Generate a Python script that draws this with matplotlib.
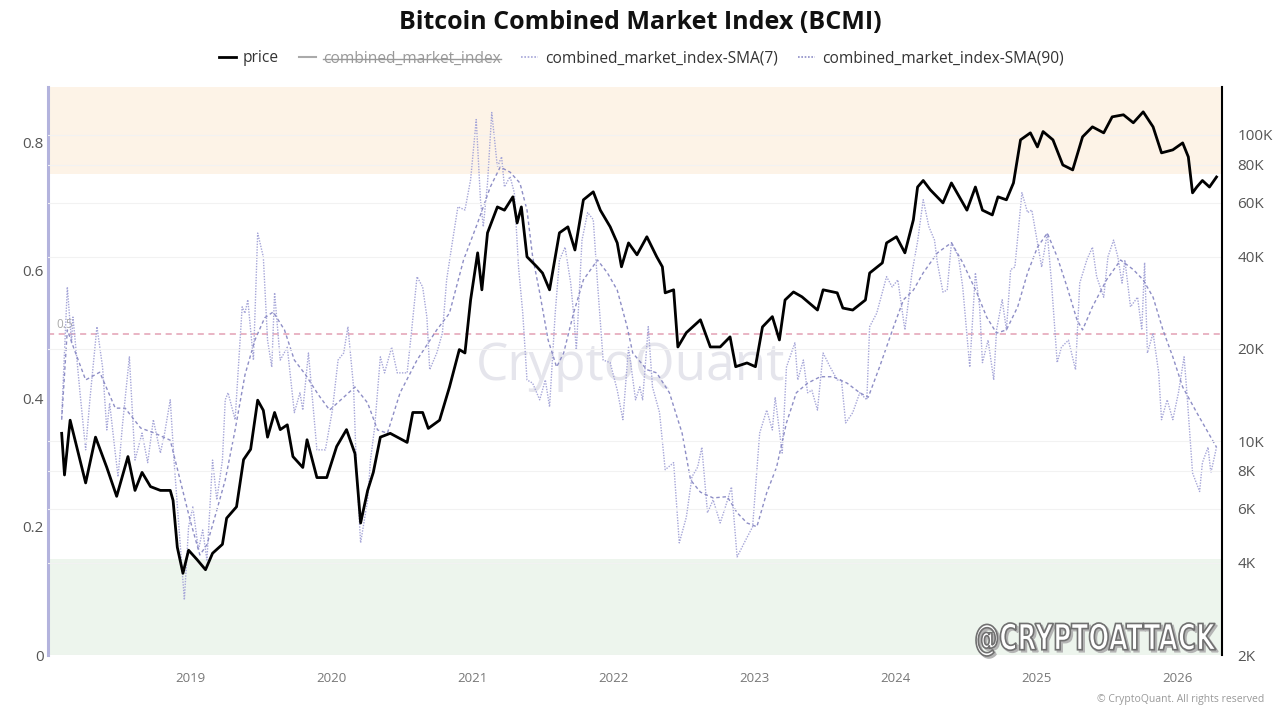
import matplotlib
matplotlib.use("Agg")
import matplotlib.pyplot as plt
from matplotlib.lines import Line2D
from matplotlib.ticker import NullLocator
from matplotlib.textpath import TextPath
from matplotlib.patches import PathPatch
from matplotlib.font_manager import FontProperties
from matplotlib.transforms import Affine2D, IdentityTransform

plt.rcParams['font.family'] = ['Open Sans', 'DejaVu Sans']

# BTC price (USD), decimal year
price_t = [2018.09, 2018.11, 2018.15, 2018.26, 2018.33, 2018.41, 2018.48, 2018.56, 2018.61, 2018.66,
           2018.72, 2018.79, 2018.86, 2018.88, 2018.91, 2018.95, 2018.99, 2019.05, 2019.11, 2019.16,
           2019.23, 2019.26, 2019.33, 2019.38, 2019.43, 2019.48, 2019.52, 2019.55, 2019.60, 2019.64,
           2019.69, 2019.73, 2019.80, 2019.83, 2019.90, 2019.97, 2020.04, 2020.11, 2020.17, 2020.21,
           2020.26, 2020.30, 2020.35, 2020.42, 2020.54, 2020.58, 2020.65, 2020.69, 2020.77, 2020.84,
           2020.91, 2020.95, 2020.99, 2021.04, 2021.07, 2021.11, 2021.18, 2021.23, 2021.29, 2021.32,
           2021.35, 2021.39, 2021.46, 2021.50, 2021.55, 2021.62, 2021.68, 2021.73, 2021.79, 2021.86,
           2021.91, 2021.98, 2022.03, 2022.06, 2022.11, 2022.17, 2022.24, 2022.31, 2022.35, 2022.37,
           2022.43, 2022.46, 2022.52, 2022.62, 2022.69, 2022.76, 2022.83, 2022.87, 2022.95, 2023.01,
           2023.06, 2023.13, 2023.18, 2023.22, 2023.28, 2023.34, 2023.45, 2023.49, 2023.59, 2023.63,
           2023.70, 2023.79, 2023.82, 2023.91, 2023.94, 2024.01, 2024.07, 2024.13, 2024.16, 2024.20,
           2024.25, 2024.34, 2024.40, 2024.51, 2024.57, 2024.62, 2024.69, 2024.73, 2024.79, 2024.84,
           2024.89, 2024.96, 2025.01, 2025.05, 2025.12, 2025.19, 2025.26, 2025.33, 2025.40, 2025.48,
           2025.54, 2025.62, 2025.69, 2025.76, 2025.83, 2025.89, 2025.97, 2026.04, 2026.08, 2026.11,
           2026.14, 2026.18, 2026.23, 2026.28]
price_k = [10.6, 7.75, 11.7, 7.3, 10.3, 8.2, 6.6, 8.9, 6.9, 7.9,
           7.1, 6.9, 6.9, 6.4, 4.5, 3.7, 4.4, 4.1, 3.8, 4.3,
           4.6, 5.6, 6.1, 8.7, 9.4, 13.6, 12.6, 10.3, 12.4, 10.9,
           11.3, 8.9, 8.2, 10.1, 7.6, 7.6, 9.6, 10.9, 9.1, 5.4,
           6.9, 7.9, 10.3, 10.6, 9.9, 12.4, 12.4, 11.0, 11.7, 15.0,
           19.9, 19.4, 28.9, 41.2, 31.2, 47.9, 58.2, 56.8, 62.8, 51.6,
           58.2, 40.0, 37.1, 35.4, 31.2, 47.9, 50.1, 42.1, 61.4, 65.2,
           56.8, 50.1, 44.4, 37.1, 44.4, 40.6, 46.5, 40.0, 37.1, 30.5,
           31.2, 20.3, 22.6, 24.9, 20.3, 20.3, 21.9, 17.5, 18.0, 17.5,
           23.6, 25.5, 21.4, 28.9, 30.7, 29.6, 26.8, 31.2, 30.5, 27.2,
           26.8, 28.9, 35.4, 38.2, 44.4, 46.5, 41.2, 52.8, 67.6, 71.0,
           66.2, 60.0, 69.7, 56.8, 67.6, 56.8, 54.8, 62.8, 61.4, 69.7,
           96.4, 101.6, 91.4, 102.6, 96.4, 79.8, 76.9, 98.6, 106.3, 101.6,
           114.6, 116.4, 109.6, 119.0, 106.3, 87.4, 89.4, 94.2, 84.8, 64.7,
           67.6, 71.0, 67.6, 72.9]

# combined_market_index-SMA(7)
sma7_t = [2018.09, 2018.13, 2018.16, 2018.17, 2018.22, 2018.26, 2018.29, 2018.34, 2018.38, 2018.41,
          2018.43, 2018.47, 2018.49, 2018.52, 2018.57, 2018.61, 2018.66, 2018.70, 2018.74, 2018.79,
          2018.82, 2018.86, 2018.89, 2018.93, 2018.96, 2018.99, 2019.02, 2019.06, 2019.09, 2019.12,
          2019.16, 2019.19, 2019.23, 2019.25, 2019.27, 2019.32, 2019.37, 2019.39, 2019.41, 2019.45,
          2019.48, 2019.52, 2019.55, 2019.58, 2019.60, 2019.64, 2019.69, 2019.74, 2019.78, 2019.80,
          2019.84, 2019.90, 2019.96, 2020.01, 2020.05, 2020.09, 2020.12, 2020.16, 2020.18, 2020.21,
          2020.26, 2020.28, 2020.31, 2020.35, 2020.38, 2020.43, 2020.47, 2020.54, 2020.57, 2020.61,
          2020.65, 2020.68, 2020.70, 2020.75, 2020.79, 2020.82, 2020.86, 2020.90, 2020.95, 2020.99,
          2021.03, 2021.06, 2021.08, 2021.11, 2021.14, 2021.18, 2021.21, 2021.23, 2021.27, 2021.30,
          2021.33, 2021.36, 2021.39, 2021.43, 2021.48, 2021.52, 2021.55, 2021.59, 2021.62, 2021.66,
          2021.70, 2021.72, 2021.74, 2021.78, 2021.82, 2021.86, 2021.89, 2021.93, 2021.98, 2022.03,
          2022.07, 2022.11, 2022.16, 2022.19, 2022.21, 2022.25, 2022.28, 2022.33, 2022.37, 2022.43,
          2022.47, 2022.52, 2022.56, 2022.60, 2022.63, 2022.67, 2022.71, 2022.76, 2022.79, 2022.84,
          2022.88, 2022.94, 2022.99, 2023.04, 2023.09, 2023.13, 2023.15, 2023.20, 2023.23, 2023.29,
          2023.31, 2023.35, 2023.38, 2023.41, 2023.45, 2023.49, 2023.54, 2023.59, 2023.62, 2023.65,
          2023.70, 2023.75, 2023.80, 2023.82, 2023.87, 2023.94, 2023.98, 2024.02, 2024.07, 2024.12,
          2024.16, 2024.20, 2024.24, 2024.28, 2024.30, 2024.34, 2024.37, 2024.40, 2024.45, 2024.48,
          2024.53, 2024.57, 2024.60, 2024.62, 2024.66, 2024.70, 2024.72, 2024.76, 2024.79, 2024.82,
          2024.85, 2024.90, 2024.94, 2024.97, 2025.01, 2025.04, 2025.08, 2025.11, 2025.15, 2025.18,
          2025.23, 2025.28, 2025.31, 2025.36, 2025.40, 2025.43, 2025.48, 2025.51, 2025.55, 2025.58,
          2025.61, 2025.63, 2025.67, 2025.72, 2025.75, 2025.77, 2025.79, 2025.83, 2025.87, 2025.89,
          2025.93, 2025.97, 2026.01, 2026.05, 2026.07, 2026.11, 2026.16, 2026.18, 2026.22, 2026.24,
          2026.28]
sma7_v = [0.371, 0.574, 0.487, 0.527, 0.409, 0.320, 0.398, 0.512, 0.449, 0.351,
          0.393, 0.315, 0.278, 0.356, 0.465, 0.304, 0.346, 0.300, 0.367, 0.315,
          0.346, 0.398, 0.293, 0.175, 0.086, 0.200, 0.231, 0.164, 0.195, 0.148,
          0.304, 0.242, 0.304, 0.398, 0.409, 0.367, 0.543, 0.533, 0.554, 0.460,
          0.658, 0.621, 0.491, 0.449, 0.565, 0.460, 0.480, 0.378, 0.409, 0.382,
          0.471, 0.320, 0.320, 0.382, 0.460, 0.471, 0.512, 0.418, 0.293, 0.175,
          0.242, 0.304, 0.356, 0.465, 0.440, 0.480, 0.440, 0.440, 0.502, 0.590,
          0.574, 0.527, 0.445, 0.471, 0.502, 0.585, 0.643, 0.699, 0.694, 0.741,
          0.835, 0.710, 0.668, 0.736, 0.846, 0.761, 0.777, 0.730, 0.746, 0.721,
          0.605, 0.533, 0.429, 0.424, 0.398, 0.429, 0.387, 0.533, 0.616, 0.636,
          0.580, 0.533, 0.476, 0.647, 0.690, 0.679, 0.580, 0.460, 0.456, 0.413,
          0.367, 0.480, 0.398, 0.418, 0.398, 0.512, 0.418, 0.378, 0.289, 0.300,
          0.175, 0.215, 0.278, 0.293, 0.324, 0.222, 0.242, 0.206, 0.226, 0.262,
          0.153, 0.179, 0.200, 0.346, 0.382, 0.351, 0.402, 0.315, 0.449, 0.487,
          0.429, 0.460, 0.409, 0.413, 0.382, 0.471, 0.449, 0.429, 0.429, 0.362,
          0.378, 0.409, 0.398, 0.512, 0.533, 0.590, 0.574, 0.585, 0.507, 0.596,
          0.645, 0.710, 0.668, 0.647, 0.612, 0.566, 0.569, 0.643, 0.621, 0.574,
          0.449, 0.596, 0.543, 0.456, 0.491, 0.429, 0.507, 0.554, 0.507, 0.601,
          0.605, 0.721, 0.690, 0.694, 0.643, 0.605, 0.658, 0.580, 0.456, 0.480,
          0.491, 0.445, 0.580, 0.616, 0.636, 0.590, 0.558, 0.621, 0.647, 0.621,
          0.580, 0.616, 0.543, 0.558, 0.507, 0.612, 0.471, 0.502, 0.440, 0.367,
          0.398, 0.367, 0.409, 0.465, 0.409, 0.284, 0.255, 0.300, 0.324, 0.284,
          0.324]

# combined_market_index-SMA(90)
sma90_t = [2018.09, 2018.13, 2018.18, 2018.26, 2018.36, 2018.47, 2018.54, 2018.65, 2018.75, 2018.86,
           2018.93, 2019.00, 2019.07, 2019.12, 2019.18, 2019.25, 2019.32, 2019.39, 2019.46, 2019.53,
           2019.59, 2019.67, 2019.74, 2019.82, 2019.91, 2019.99, 2020.17, 2020.26, 2020.33, 2020.40,
           2020.49, 2020.61, 2020.75, 2020.84, 2020.94, 2021.04, 2021.13, 2021.20, 2021.27, 2021.34,
           2021.39, 2021.43, 2021.48, 2021.54, 2021.60, 2021.65, 2021.72, 2021.79, 2021.89, 2021.96,
           2022.03, 2022.10, 2022.14, 2022.24, 2022.31, 2022.40, 2022.49, 2022.55, 2022.62, 2022.71,
           2022.81, 2022.88, 2022.95, 2023.02, 2023.09, 2023.16, 2023.23, 2023.30, 2023.38, 2023.47,
           2023.56, 2023.66, 2023.75, 2023.81, 2023.89, 2023.99, 2024.06, 2024.13, 2024.20, 2024.30,
           2024.40, 2024.48, 2024.58, 2024.65, 2024.72, 2024.79, 2024.87, 2024.94, 2025.01, 2025.08,
           2025.15, 2025.22, 2025.29, 2025.33, 2025.40, 2025.50, 2025.60, 2025.69, 2025.76, 2025.83,
           2025.90, 2025.97, 2026.04, 2026.14, 2026.21, 2026.28]
sma90_v = [0.367, 0.507, 0.476, 0.429, 0.441, 0.385, 0.385, 0.354, 0.346, 0.335,
           0.273, 0.211, 0.156, 0.172, 0.218, 0.273, 0.351, 0.437, 0.491, 0.526,
           0.535, 0.507, 0.460, 0.437, 0.406, 0.382, 0.418, 0.393, 0.351, 0.346,
           0.409, 0.460, 0.507, 0.533, 0.616, 0.674, 0.730, 0.761, 0.753, 0.736,
           0.694, 0.621, 0.565, 0.491, 0.449, 0.471, 0.533, 0.585, 0.616, 0.596,
           0.569, 0.512, 0.471, 0.445, 0.440, 0.409, 0.346, 0.273, 0.254, 0.245,
           0.247, 0.222, 0.206, 0.200, 0.253, 0.293, 0.362, 0.409, 0.424, 0.434,
           0.434, 0.424, 0.409, 0.402, 0.449, 0.512, 0.554, 0.569, 0.596, 0.627,
           0.643, 0.612, 0.565, 0.527, 0.502, 0.507, 0.543, 0.596, 0.636, 0.658,
           0.621, 0.574, 0.523, 0.507, 0.543, 0.585, 0.616, 0.601, 0.585, 0.558,
           0.507, 0.465, 0.418, 0.378, 0.351, 0.324]

years = [2019, 2020, 2021, 2022, 2023, 2024, 2025, 2026]
left_ticks = [0, 0.2, 0.4, 0.6, 0.8]
right_ticks = [2000, 4000, 6000, 8000, 10000, 20000, 40000, 60000, 80000, 100000]
right_labels = ['2K', '4K', '6K', '8K', '10K', '20K', '40K', '60K', '80K', '100K']

fig = plt.figure(figsize=(12.8, 7.12), dpi=100)
ax = fig.add_axes([0.0375, 0.080, 0.9172, 0.798])
ax2 = ax.twinx()

# zones
ax.axhspan(0.75, 1.0, color='#fdf3e7', lw=0, zorder=0)
ax.axhspan(0.0, 0.15, color='#edf5ed', lw=0, zorder=0)
ax.axhline(0.5, color='#e3a0b4', lw=1.1, dashes=(4, 3), zorder=1)
ax.text(2018.05, 0.505, '0.5', fontsize=8.5, color='#aaaaaa', va='bottom', zorder=1)
ax.text(0.496, 0.507, 'CryptoQuant', transform=ax.transAxes, fontsize=37, color='#e5e5ec',
        ha='center', va='center', zorder=0.5)

ax.plot(sma7_t, sma7_v, color='#a6a6d8', lw=1.0, ls=(0, (1, 1)), zorder=2)
ax.plot(sma90_t, sma90_v, color='#8e8ec6', lw=1.0, ls=(0, (2.5, 2)), zorder=2)
ax2.plot(price_t, [p * 1000 for p in price_k], color='black', lw=2.0, zorder=3)

ax.set_xlim(2017.993, 2026.319)
ax.set_ylim(0, 0.886)
ax2.set_yscale('log')
ax2.set_ylim(2000, 143600)

ax.set_xticks(years)
ax.set_xticklabels([str(y) for y in years])
ax.set_yticks(left_ticks)
ax.set_yticklabels(['0', '0.2', '0.4', '0.6', '0.8'])
ax2.set_yticks(right_ticks)
ax2.set_yticklabels(right_labels)
ax2.yaxis.set_minor_locator(NullLocator())
ax2.grid(axis='y', color='#f2f2f2', lw=0.8)

ax.tick_params(axis='x', length=0, pad=12, labelsize=9.5, labelcolor='#777777')
ax.tick_params(axis='y', length=0, pad=3, labelsize=11, labelcolor='#555555')
ax2.tick_params(axis='y', length=0, pad=11, labelsize=11, labelcolor='#555555')

for a in (ax, ax2):
    a.spines['top'].set_visible(False)
    a.spines['bottom'].set_visible(False)
ax2.spines['left'].set_visible(False)
ax.spines['right'].set_visible(False)
ax.spines['left'].set_color('#b3b3dd')
ax.spines['left'].set_linewidth(2.2)
ax2.spines['right'].set_color('black')
ax2.spines['right'].set_linewidth(1.5)

fig.text(0.5, 0.968, 'Bitcoin Combined Market Index (BCMI)', ha='center', va='center',
         fontsize=18, fontweight='bold', color='#111111')

handles = [
    Line2D([], [], color='black', lw=2),
    Line2D([], [], color='#aaaaaa', lw=1.5),
    Line2D([], [], color='#a6a6d8', lw=1.2, ls=(0, (1, 1))),
    Line2D([], [], color='#8e8ec6', lw=1.2, ls=(0, (1, 1))),
]
labels = ['price', 'combined_market_index', 'combined_market_index-SMA(7)',
          'combined_market_index-SMA(90)']
leg = fig.legend(handles, labels, loc='center', bbox_to_anchor=(0.501, 0.918), ncol=4,
                 frameon=False, fontsize=11.2, handlelength=1.1, handletextpad=0.45,
                 columnspacing=1.3)
for t in leg.get_texts():
    t.set_color('#333333')
leg.get_texts()[1].set_color('#999999')

# watermark handle, squeezed into its box (pixel coords from bottom-left)
tp = TextPath((0, 0), '@CRYPTOATTACK', size=50,
              prop=FontProperties(family='DejaVu Sans', weight='bold'))
ext = tp.get_extents()
x0, x1, y0, y1 = 976, 1216, 56, 89
fit = (Affine2D().translate(-ext.x0, -ext.y0)
       .scale((x1 - x0) / ext.width, (y1 - y0) / ext.height)
       .translate(x0, y0))
shadow = Affine2D().translate(2, -2).transform_path(fit.transform_path(tp))
fig.add_artist(PathPatch(shadow, transform=IdentityTransform(), facecolor='#b4b4b4',
                         edgecolor='#b4b4b4', lw=1.2))
fig.add_artist(PathPatch(fit.transform_path(tp), transform=IdentityTransform(),
                         facecolor='white', edgecolor='#707070', lw=1.2))

fig.text(0.988, 0.017, '\u00a9 CryptoQuant. All rights reserved', ha='right', va='center',
         fontsize=7.5, color='#999999')

# strike through the hidden series in the legend
fig.canvas.draw()
r = fig.canvas.get_renderer()
bb = leg.get_texts()[1].get_window_extent(r).transformed(fig.transFigure.inverted())
ym = bb.y0 + bb.height * 0.45
fig.add_artist(Line2D([bb.x0, bb.x1], [ym, ym], color='#999999', lw=1.0))

fig.savefig('out.png', dpi=100)
